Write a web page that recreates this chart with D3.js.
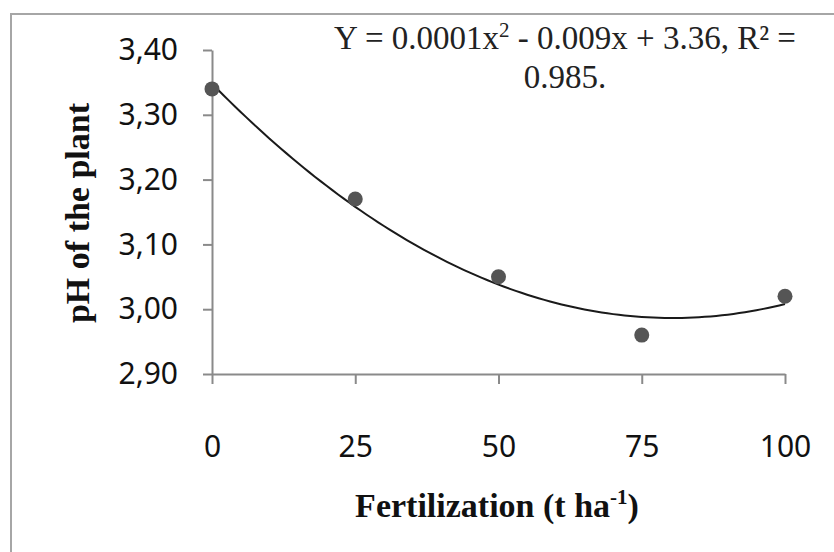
<!DOCTYPE html>
<html>
<head>
<meta charset="utf-8">
<script src="https://cdn.jsdelivr.net/npm/d3@7"></script>
<style>
  body { margin: 0; background: #fff; }
</style>
</head>
<body>
<div id="chart"></div>
<script>
// data
var fertilization = [0, 25, 50, 75, 100];
var phValues = [3.34, 3.17, 3.05, 2.96, 3.02];
var xTicks = [0, 25, 50, 75, 100];
var yTicks = [2.9, 3.0, 3.1, 3.2, 3.3, 3.4];
var equationLine2 = "0.985.";

var svgWidth = 834;
var svgHeight = 552;

var svg = d3.select("#chart")
  .append("svg")
  .attr("width", svgWidth)
  .attr("height", svgHeight);

// outer frame (right and bottom run off the page)
svg.append("rect")
  .attr("x", 11)
  .attr("y", 14)
  .attr("width", 840)
  .attr("height", 560)
  .attr("fill", "none")
  .attr("stroke", "#a6a6a6")
  .attr("stroke-width", 2);

var xScale = d3.scaleLinear().domain([0, 100]).range([212, 785]);
var yScale = d3.scaleLinear().domain([2.9, 3.4]).range([374, 50]);

var commaFmt = function(d) { return d3.format(".2f")(d).replace(".", ","); };

var yAxis = svg.append("g")
  .attr("transform", "translate(212,0)")
  .call(d3.axisLeft(yScale).tickValues(yTicks).tickFormat(commaFmt)
    .tickSize(9).tickSizeOuter(0).tickPadding(25));

var xAxis = svg.append("g")
  .attr("transform", "translate(0,374)")
  .call(d3.axisBottom(xScale).tickValues(xTicks).tickFormat(d3.format("d"))
    .tickSize(10).tickSizeOuter(0).tickPadding(52));

[xAxis, yAxis].forEach(function(ax) {
  ax.select(".domain").attr("stroke", "#8a8a8a").attr("stroke-width", 2);
  ax.selectAll(".tick line").attr("stroke", "#8a8a8a").attr("stroke-width", 2);
  ax.selectAll(".tick text")
    .attr("fill", "#111")
    .style("font-family", "'Noto Sans', sans-serif")
    .style("font-size", "30px");
});

// least squares quadratic trend through the points
function quadFit(xs, ys) {
  var s = [0, 0, 0, 0, 0], t = [0, 0, 0];
  xs.forEach(function(x, i) {
    for (var k = 0; k < 5; k++) s[k] += Math.pow(x, k);
    for (var k2 = 0; k2 < 3; k2++) t[k2] += Math.pow(x, k2) * ys[i];
  });
  var m = [[s[0], s[1], s[2], t[0]], [s[1], s[2], s[3], t[1]], [s[2], s[3], s[4], t[2]]];
  for (var i = 0; i < 3; i++) {
    for (var j = i + 1; j < 3; j++) {
      var f = m[j][i] / m[i][i];
      for (var k3 = i; k3 < 4; k3++) m[j][k3] -= f * m[i][k3];
    }
  }
  var c = [0, 0, 0];
  for (var r = 2; r >= 0; r--) {
    var v = m[r][3];
    for (var q = r + 1; q < 3; q++) v -= m[r][q] * c[q];
    c[r] = v / m[r][r];
  }
  return c;
}

var coef = quadFit(fertilization, phValues);
var trendX = d3.range(0, 100.5, 1);
var line = d3.line()
  .x(function(d) { return xScale(d); })
  .y(function(d) { return yScale(coef[0] + coef[1] * d + coef[2] * d * d); });

svg.append("path")
  .datum(trendX)
  .attr("d", line)
  .attr("fill", "none")
  .attr("stroke", "#1a1a1a")
  .attr("stroke-width", 2);

svg.selectAll("circle.pt")
  .data(fertilization)
  .enter()
  .append("circle")
  .attr("class", "pt")
  .attr("cx", function(d) { return xScale(d); })
  .attr("cy", function(d, i) { return yScale(phValues[i]); })
  .attr("r", 7.5)
  .attr("fill", "#555");

// regression equation
var eq = svg.append("text")
  .attr("x", 565)
  .attr("y", 49)
  .attr("text-anchor", "middle")
  .attr("fill", "#222")
  .style("font-family", "'Liberation Serif', 'Times New Roman', serif")
  .style("font-size", "33px");
eq.append("tspan").text("Y = 0.0001x");
eq.append("tspan").attr("dy", -12).style("font-size", "21px").text("2");
eq.append("tspan").attr("dy", 12).text(" - 0.009x + 3.36, R\u00b2 =");

svg.append("text")
  .attr("x", 565)
  .attr("y", 88)
  .attr("text-anchor", "middle")
  .attr("fill", "#222")
  .style("font-family", "'Liberation Serif', 'Times New Roman', serif")
  .style("font-size", "33px")
  .text(equationLine2);

// axis titles
var xt = svg.append("text")
  .attr("x", 497)
  .attr("y", 517)
  .attr("text-anchor", "middle")
  .attr("fill", "#111")
  .style("font-family", "'Liberation Serif', 'Times New Roman', serif")
  .style("font-weight", "bold")
  .style("font-size", "34px");
xt.append("tspan").text("Fertilization (t ha");
xt.append("tspan").attr("dy", -13).style("font-size", "21px").text("-1");
xt.append("tspan").attr("dy", 13).text(")");

svg.append("text")
  .attr("transform", "translate(89,213) rotate(-90)")
  .attr("text-anchor", "middle")
  .attr("fill", "#111")
  .style("font-family", "'Liberation Serif', 'Times New Roman', serif")
  .style("font-weight", "bold")
  .style("font-size", "34px")
  .text("pH of the plant");
</script>
</body>
</html>
